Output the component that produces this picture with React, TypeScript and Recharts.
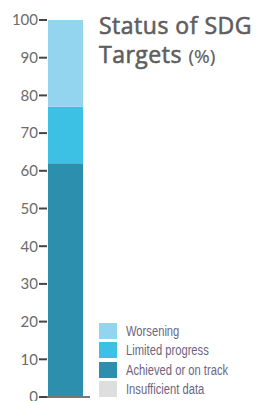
import React from "react";
import { BarChart, Bar, XAxis, YAxis } from "recharts";

const categories = ["SDG Targets"];
const achieved = [62];
const limited = [15];
const worsening = [23];
const insufficient = [0];
const yTicks = [0, 10, 20, 30, 40, 50, 60, 70, 80, 90, 100];

const seriesNames = ["Worsening", "Limited progress", "Achieved or on track", "Insufficient data"];
const seriesColors = ["#93d5ee", "#3cc1e4", "#2b8fad", "#dedede"];

const data = categories.map((c, i) => ({
  name: c,
  achieved: achieved[i],
  limited: limited[i],
  worsening: worsening[i],
  insufficient: insufficient[i],
}));

const LegendBox = () => (
  <div style={{ position: "absolute", left: 99, top: 321 }}>
    {seriesNames.map((n, i) => (
      <div key={n} style={{ display: "flex", alignItems: "center", height: 19.5 }}>
        <div style={{ width: 18, height: 16, background: seriesColors[i], marginRight: 9, flex: "none" }} />
        <span
          style={{
            fontFamily: "'Liberation Sans', sans-serif",
            fontSize: 14,
            color: "#6d6580",
            whiteSpace: "nowrap",
            display: "inline-block",
            transform: "scaleX(0.8)",
            transformOrigin: "left center",
          }}
        >
          {n}
        </span>
      </div>
    ))}
  </div>
);

export default function App() {
  return (
    <div style={{ position: "absolute", left: 0, top: 0, width: 259, height: 401, background: "#fff" }}>
      <BarChart
        width={259}
        height={401}
        data={data}
        margin={{ top: 20, right: 169, bottom: 0, left: 0 }}
      >
        <XAxis
          dataKey="name"
          tick={false}
          tickLine={false}
          height={4}
          axisLine={{ stroke: "#777", strokeWidth: 2 }}
          padding={{ left: 0, right: 7 }}
        />
        <YAxis
          domain={[0, 100]}
          ticks={yTicks}
          interval={0}
          width={47}
          axisLine={false}
          tickSize={8}
          tickLine={{ stroke: "#444", strokeWidth: 2 }}
          tick={{ fill: "#6b6b6b", fontSize: 15, fontFamily: "Lato, sans-serif" }}
          tickMargin={1}
        />
        <Bar dataKey="achieved" stackId="a" fill={seriesColors[2]} barSize={35} isAnimationActive={false} />
        <Bar dataKey="limited" stackId="a" fill={seriesColors[1]} barSize={35} isAnimationActive={false} />
        <Bar dataKey="worsening" stackId="a" fill={seriesColors[0]} barSize={35} isAnimationActive={false} />
        <Bar dataKey="insufficient" stackId="a" fill={seriesColors[3]} barSize={35} isAnimationActive={false} />
      </BarChart>
      <div
        style={{
          position: "absolute",
          left: 99,
          top: 11,
          fontFamily: "'Open Sans', sans-serif",
          fontWeight: 400,
          fontSize: 23,
          lineHeight: "29px",
          color: "#5e5e5e",
          letterSpacing: 0.5,
          WebkitTextStroke: "0.6px #5e5e5e",
          whiteSpace: "nowrap",
        }}
      >
        Status of SDG
        <br />
        Targets <span style={{ fontSize: 19, WebkitTextStroke: "0.2px #5e5e5e", letterSpacing: 0 }}>(%)</span>
      </div>
      <LegendBox />
    </div>
  );
}
